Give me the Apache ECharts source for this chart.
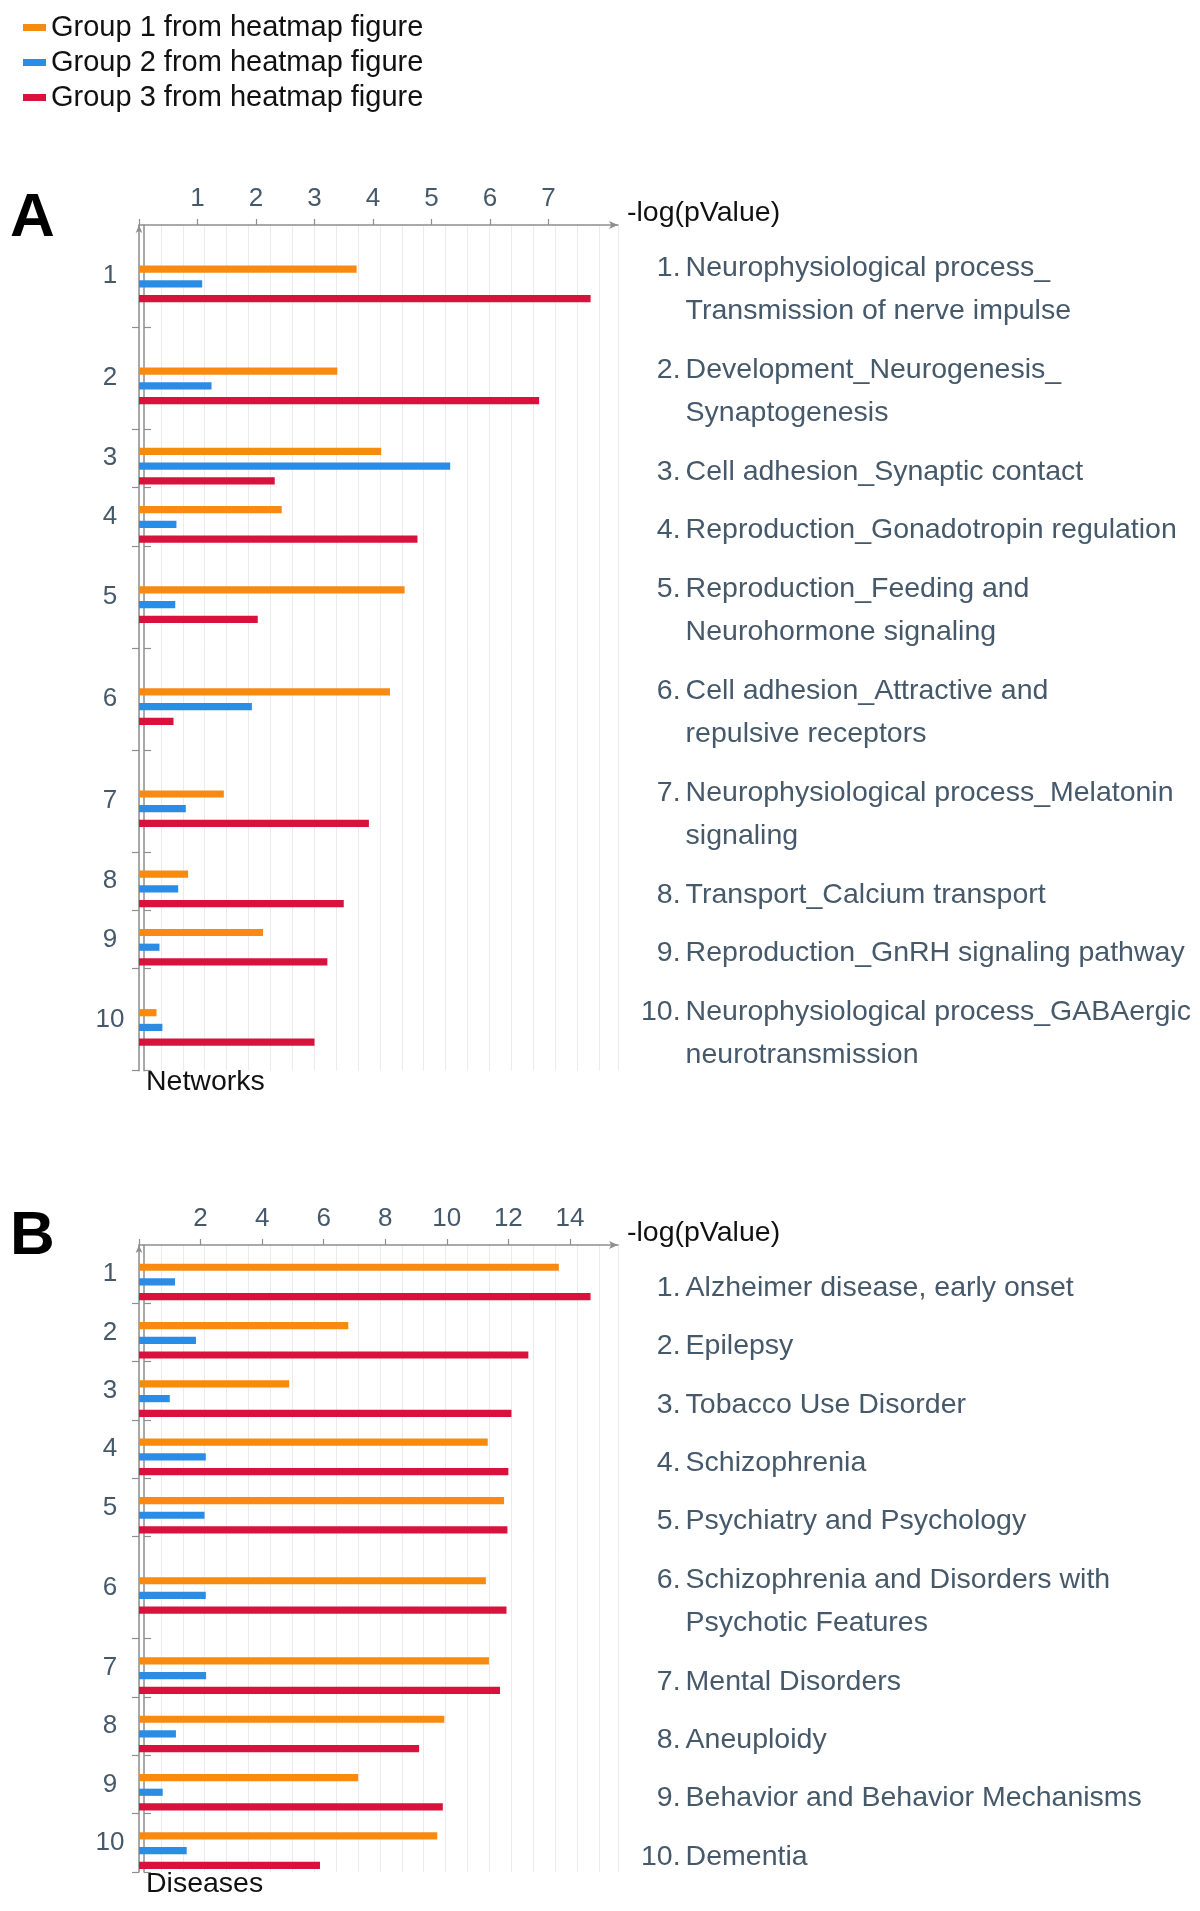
<!DOCTYPE html>
<html><head><meta charset="utf-8">
<script src="https://cdn.jsdelivr.net/npm/echarts@6/dist/echarts.min.js"></script>
<style>html,body{margin:0;padding:0;background:#fff}#c{width:1200px;height:1911px}</style>
</head><body><div id="c"></div>
<script>
// ---------- data ----------
const seriesNames = ['Group 1 from heatmap figure', 'Group 2 from heatmap figure', 'Group 3 from heatmap figure'];

const networkLabels = [
  'Neurophysiological process_\nTransmission of nerve impulse',
  'Development_Neurogenesis_\nSynaptogenesis',
  'Cell adhesion_Synaptic contact',
  'Reproduction_Gonadotropin regulation',
  'Reproduction_Feeding and\nNeurohormone signaling',
  'Cell adhesion_Attractive and\nrepulsive receptors',
  'Neurophysiological process_Melatonin\nsignaling',
  'Transport_Calcium transport',
  'Reproduction_GnRH signaling pathway',
  'Neurophysiological process_GABAergic\nneurotransmission'
];
const networkGroup1 = [3.72, 3.39, 4.14, 2.44, 4.54, 4.29, 1.45, 0.84, 2.12, 0.30];
const networkGroup2 = [1.08, 1.24, 5.32, 0.64, 0.62, 1.93, 0.80, 0.67, 0.35, 0.40];
const networkGroup3 = [7.72, 6.84, 2.32, 4.76, 2.03, 0.59, 3.93, 3.50, 3.22, 3.00];
const networkTicks = [1, 2, 3, 4, 5, 6, 7];

const diseaseLabels = [
  'Alzheimer disease, early onset',
  'Epilepsy',
  'Tobacco Use Disorder',
  'Schizophrenia',
  'Psychiatry and Psychology',
  'Schizophrenia and Disorders with\nPsychotic Features',
  'Mental Disorders',
  'Aneuploidy',
  'Behavior and Behavior Mechanisms',
  'Dementia'
];
const diseaseGroup1 = [13.64, 6.80, 4.88, 11.33, 11.86, 11.27, 11.37, 9.92, 7.12, 9.69];
const diseaseGroup2 = [1.17, 1.85, 1.00, 2.17, 2.13, 2.17, 2.18, 1.20, 0.77, 1.55];
const diseaseGroup3 = [14.67, 12.65, 12.10, 12.00, 11.97, 11.94, 11.73, 9.10, 9.87, 5.88];
const diseaseTicks = [2, 4, 6, 8, 10, 12, 14];

// ---------- layout / style ----------
const COLORS = ['#F98A10', '#2B8CE6', '#D8123C'];
const FONT = "'Liberation Sans', Arial, Helvetica, sans-serif";
const AXIS_COLOR = '#8e8e8e';
const TEXT_BLUE = '#46596a';
const LABEL_FS = 28.5;
const DIGIT_W = 0.556 * LABEL_FS;
const UNIT = 14.58;      // px per band unit
const LEFT = 139;
const PLOT_W = 479;
const GRID_STEP = 21.9;  // px between light vertical guide lines
const BAR_H = 7.2, BAR_STEP = 14.7, BAR_SHIFT = 7.8;

const panels = [
  { labels: networkLabels, values: [networkGroup1, networkGroup2, networkGroup3], ticks: networkTicks,
    pxPerValue: 58.5, top: 225, name: 'Networks', letter: 'A', letterTop: 188 },
  { labels: diseaseLabels, values: [diseaseGroup1, diseaseGroup2, diseaseGroup3], ticks: diseaseTicks,
    pxPerValue: 30.78, top: 1245, name: 'Diseases', letter: 'B', letterTop: 1206 }
];

function bandLayout(labels) {
  let acc = 0; const bounds = [], centers = [];
  labels.forEach(l => {
    const w = 3 * l.split('\n').length + 1;
    centers.push(acc + w / 2); acc += w; bounds.push(acc);
  });
  return { bounds, centers, total: acc };
}
function idxOf(centers, v) {
  let best = 0, d = Infinity;
  centers.forEach((c, i) => { const dd = Math.abs(c - v); if (dd < d) { d = dd; best = i; } });
  return best;
}

const numBase = { fontSize: LABEL_FS, lineHeight: 43, color: TEXT_BLUE, fontFamily: FONT };
const richStyles = {
  s: Object.assign({}, numBase, { padding: [0, 0, 0, DIGIT_W] }),
  w: Object.assign({}, numBase),
  sh: Object.assign({}, numBase, { padding: [0, 0, 0, DIGIT_W], color: 'rgba(0,0,0,0)' }),
  wh: Object.assign({}, numBase, { color: 'rgba(0,0,0,0)' }),
  t: Object.assign({}, numBase, { padding: [0, 0, 0, 5] })
};

const grid = [], xAxis = [], yAxis = [], series = [], title = [];
panels.forEach((p, k) => {
  const L = bandLayout(p.labels);
  grid.push({ left: LEFT, top: p.top, width: PLOT_W, height: L.total * UNIT });
  title.push({ text: p.letter, left: 10, top: p.letterTop, padding: 0,
    textStyle: { fontSize: 62, fontWeight: 'bold', color: '#000', fontFamily: FONT } });
  // main value axis (top)
  xAxis.push({
    gridIndex: k, type: 'value', position: 'top', min: 0, max: PLOT_W / p.pxPerValue,
    axisLine: { show: true, symbol: ['none', 'arrow'], symbolSize: [6, 9], lineStyle: { color: AXIS_COLOR, width: 1.5 } },
    axisTick: { show: true, customValues: [0].concat(p.ticks), length: 6, lineStyle: { color: AXIS_COLOR, width: 1.2 } },
    axisLabel: { customValues: p.ticks, fontSize: 26, color: TEXT_BLUE, margin: 13, fontFamily: FONT },
    splitLine: { show: false },
    name: '-log(pValue)', nameLocation: 'end', nameGap: 9,
    nameTextStyle: { fontSize: 28.5, lineHeight: 24, color: '#111', fontFamily: FONT, align: 'left', verticalAlign: 'bottom' }
  });
  // light vertical guide lines
  xAxis.push({
    gridIndex: k, type: 'value', position: 'bottom', min: 0, max: PLOT_W / GRID_STEP, interval: 1,
    axisLine: { show: false }, axisTick: { show: false }, axisLabel: { show: false },
    splitLine: { show: true, lineStyle: { color: '#ebebeb', width: 1 } }
  });
  // left category-like axis
  yAxis.push({
    gridIndex: k, type: 'value', inverse: true, min: 0, max: L.total,
    axisLine: { show: true, symbol: ['none', 'arrow'], symbolSize: [5, 8], lineStyle: { color: AXIS_COLOR, width: 1.5 } },
    axisTick: { show: true, customValues: L.bounds, length: 7, lineStyle: { color: AXIS_COLOR, width: 1.2 } },
    axisLabel: { customValues: L.centers, formatter: v => String(idxOf(L.centers, v) + 1),
      align: 'center', margin: 29, fontSize: 26, color: TEXT_BLUE, fontFamily: FONT },
    splitLine: { show: false },
    name: p.name, nameLocation: 'end', nameGap: 12,
    nameTextStyle: { fontSize: 28.5, color: '#111', fontFamily: FONT, align: 'left', verticalAlign: 'middle', padding: [0, 0, 0, 7] }
  });
  // right border axis with long labels
  yAxis.push({
    gridIndex: k, type: 'value', position: 'right', offset: -5, inverse: true, min: 0, max: L.total,
    axisLine: { show: true, lineStyle: { color: AXIS_COLOR, width: 1.5 } },
    axisTick: { show: true, customValues: L.bounds, length: 7, lineStyle: { color: AXIS_COLOR, width: 1.2 } },
    axisLabel: {
      customValues: L.centers, margin: 28, padding: [28, 0, 0, 0], align: 'left',
      formatter: v => {
        const i = idxOf(L.centers, v);
        const num = (i + 1) + '.';
        const key = (i + 1) >= 10 ? 'w' : 's';
        return p.labels[i].split('\n').map((ln, j) =>
          '{' + key + (j === 0 ? '' : 'h') + '|' + num + '}{t|' + ln + '}').join('\n');
      },
      rich: richStyles
    },
    splitLine: { show: false }
  });
  p.values.forEach((vals, s) => {
    series.push({
      type: 'custom', name: seriesNames[s], xAxisIndex: 2 * k, yAxisIndex: 2 * k,
      itemStyle: { color: COLORS[s] }, z: 5,
      encode: { x: 0, y: 1 },
      data: vals.map((v, i) => [v, L.centers[i]]),
      renderItem: (params, api) => {
        const v = api.value(0), c = api.value(1);
        const a = api.coord([0, c]), b = api.coord([v, c]);
        const yMid = a[1] + BAR_SHIFT + (s - 1) * BAR_STEP;
        return { type: 'rect', shape: { x: a[0], y: yMid - BAR_H / 2, width: b[0] - a[0], height: BAR_H },
          style: { fill: api.visual('color') } };
      }
    });
  });
});

const chart = echarts.init(document.getElementById('c'), null, { renderer: 'canvas' });
chart.setOption({
  backgroundColor: '#fff',
  animation: false,
  title,
  legend: { orient: 'vertical', left: 18, top: 8, itemWidth: 23, itemHeight: 7, itemGap: 6, icon: 'rect',
    data: seriesNames, selectedMode: false, textStyle: { fontSize: 29, color: '#111', fontFamily: FONT } },
  grid, xAxis, yAxis, series
});
</script></body></html>
